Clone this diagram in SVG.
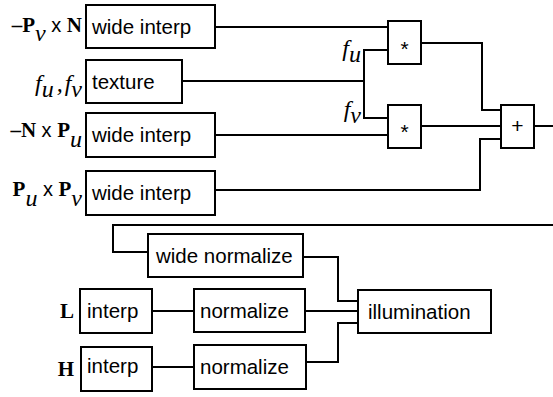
<svg xmlns="http://www.w3.org/2000/svg" width="553" height="397" viewBox="0 0 553 397">
<style>
.box{fill:#fff;stroke:#000;stroke-width:2}
.t{font-family:"Liberation Sans",Arial,sans-serif;font-size:20.5px;fill:#000}
.op{font-family:"Liberation Sans",Arial,sans-serif;font-size:21px;fill:#000;text-anchor:middle}
.lab{font-family:"Liberation Serif","Times New Roman",serif;font-size:21px;fill:#000;text-anchor:end}
.b{font-family:"Liberation Serif","Times New Roman",serif;font-weight:bold}
.i{font-family:"Liberation Serif","Times New Roman",serif;font-style:italic;font-size:24px}
.s{font-family:"Liberation Sans",Arial,sans-serif;font-size:20px}
.c{fill:none;stroke:#000;stroke-width:2}
</style>
<rect width="553" height="397" fill="#fff"/>
<g id="connectors">
<polyline class="c" points="215,27 388,27"/>
<polyline class="c" points="182,81 364,81"/>
<polyline class="c" points="388,50 364,50 364,118 388,118"/>
<polyline class="c" points="215,135 388,135"/>
<polyline class="c" points="421,43 482,43 482,110 501,110"/>
<polyline class="c" points="421,126 501,126"/>
<polyline class="c" points="215,190 480,190 480,139 501,139"/>
<polyline class="c" points="534,126 553,126"/>
<polyline class="c" points="553,225 113,225 113,252 148,252"/>
<polyline class="c" points="303,257 338,257 338,301 358,301"/>
<polyline class="c" points="152,311 194,311"/>
<polyline class="c" points="305,311 358,311"/>
<polyline class="c" points="152,367 194,367"/>
<polyline class="c" points="306,362 338,362 338,323 358,323"/>
</g>
<g id="wi1"><rect class="box" x="86" y="5" width="129" height="43"/><text class="t" x="92" y="34">wide interp</text>
<text class="lab" x="82" y="32"><tspan class="b">–P</tspan><tspan class="i" dy="9">v</tspan><tspan class="s" dy="-9"> x </tspan><tspan class="b">N</tspan></text></g>
<g id="texture"><rect class="box" x="86" y="60" width="96" height="43"/><text class="t" x="92" y="89">texture</text>
<text class="lab" x="82" y="91"><tspan class="i">f</tspan><tspan class="i" dy="6">u</tspan><tspan class="i" dx="3" dy="-6">,</tspan><tspan class="i" dx="2">f</tspan><tspan class="i" dy="6">v</tspan></text></g>
<g id="wi3"><rect class="box" x="86" y="113" width="129" height="44"/><text class="t" x="92" y="142">wide interp</text>
<text class="lab" x="82" y="137"><tspan class="b">–N</tspan><tspan class="s"> x </tspan><tspan class="b">P</tspan><tspan class="i" dy="10">u</tspan></text></g>
<g id="wi4"><rect class="box" x="86" y="171" width="129" height="44"/><text class="t" x="92" y="200">wide interp</text>
<text class="lab" x="82" y="196"><tspan class="b">P</tspan><tspan class="i" dy="10">u</tspan><tspan class="s" dy="-10"> x </tspan><tspan class="b">P</tspan><tspan class="i" dy="10">v</tspan></text></g>
<g id="mult1"><rect class="box" x="388" y="21" width="33" height="43"/><text class="op" x="404.5" y="56">*</text>
<text class="lab" x="361" y="56"><tspan class="i" font-size="22px">f</tspan><tspan class="i" font-size="22px" dy="6">u</tspan></text></g>
<g id="mult2"><rect class="box" x="388" y="105" width="33" height="43"/><text class="op" x="404.5" y="139">*</text>
<text class="lab" x="361" y="117"><tspan class="i" font-size="22px">f</tspan><tspan class="i" font-size="22px" dy="6">v</tspan></text></g>
<g id="plus"><rect class="box" x="501" y="105" width="33" height="43"/><text class="op" x="517.5" y="133">+</text></g>
<g id="widenorm"><rect class="box" x="148" y="234" width="155" height="43"/><text class="t" x="156" y="263">wide normalize</text></g>
<g id="interpL"><rect class="box" x="80" y="289" width="72" height="44"/><text class="t" x="87" y="318">interp</text>
<text class="lab b" x="74" y="318" font-size="20px">L</text></g>
<g id="normL"><rect class="box" x="194" y="289" width="111" height="43"/><text class="t" x="200" y="318">normalize</text></g>
<g id="interpH"><rect class="box" x="81" y="347" width="71" height="44"/><text class="t" x="87" y="373">interp</text>
<text class="lab b" x="74" y="376" font-size="20px">H</text></g>
<g id="normH"><rect class="box" x="194" y="345" width="112" height="44"/><text class="t" x="200" y="374">normalize</text></g>
<g id="illum"><rect class="box" x="358" y="290" width="133" height="43"/><text class="t" x="368" y="319">illumination</text></g>
</svg>
